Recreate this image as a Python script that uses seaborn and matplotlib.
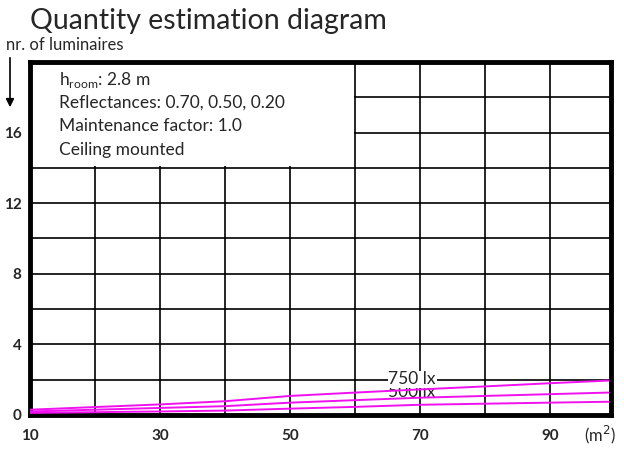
import pandas as pd
import seaborn as sns
import matplotlib.pyplot as plt
from matplotlib.patches import Rectangle

# room area (m2) vs number of luminaires
area = [10, 20, 30, 40, 50, 60, 70, 80, 90, 99]
lux_750 = [0.3, 0.45, 0.6, 0.78, 1.08, 1.27, 1.45, 1.62, 1.8, 1.95]
lux_500 = [0.2, 0.3, 0.4, 0.5, 0.7, 0.84, 0.98, 1.08, 1.18, 1.27]
lux_300 = [0.12, 0.16, 0.2, 0.25, 0.36, 0.46, 0.58, 0.64, 0.7, 0.75]

x_labels = [10, 30, 50, 70, 90]
y_labels = [0, 4, 8, 12, 16]
info_lines = ['h$_{\\mathregular{room}}$: 2.8 m', 'Reflectances: 0.70, 0.50, 0.20',
              'Maintenance factor: 1.0', 'Ceiling mounted']

df = pd.DataFrame({'area': area * 3,
                   'n': lux_750 + lux_500 + lux_300,
                   'level': ['750 lx'] * len(area) + ['500 lx'] * len(area) + ['300 lx'] * len(area)})

sns.set_style('white')
plt.rcParams['font.family'] = ['Lato', 'DejaVu Sans']

fig = plt.figure(figsize=(6.24, 4.5), dpi=100)
ax = fig.add_axes([30 / 624, 1 - 415 / 450, 581 / 624, 353 / 450])

sns.lineplot(data=df, x='area', y='n', units='level', estimator=None,
             color='#f010f0', linewidth=1.4, ax=ax, zorder=3)

ax.set_xlim(10, 99.4)
ax.set_ylim(0, 20)
ax.set_xticks(x_labels)
ax.set_xticks(range(20, 100, 20), minor=True)
ax.set_yticks(y_labels)
ax.set_yticks(range(2, 20, 4), minor=True)
ax.grid(True, which='both', color='black', linewidth=1.2)
ax.set_axisbelow(True)
ax.tick_params(which='both', length=0, labelsize=11, pad=6)
ax.tick_params(axis='x', pad=10)
for lab in ax.get_xticklabels() + ax.get_yticklabels():
    lab.set_fontweight('bold')
ax.set_xlabel('')
ax.set_ylabel('')
for s in ax.spines.values():
    s.set_visible(True)
    s.set_color('black')
    s.set_linewidth(3.5)

# white box for the info text
ax.add_patch(Rectangle((10, 14.08), 49.93, 6, facecolor='white', edgecolor='none', zorder=1))
for i, t in enumerate(info_lines):
    ax.text(14.4, 19.0 - i * 1.32, t, fontsize=12.5, va='center', ha='left', zorder=4)

# level labels
t500 = ax.text(68.8, 1.3, '500 lx', fontsize=12.5, ha='center', va='center', zorder=2)
clip = Rectangle((60, 1.55), 20, 2, transform=ax.transData)
t500.set_clip_path(clip)
ax.text(68.8, 2.02, '750 lx', fontsize=12.5, ha='center', va='center', zorder=2,
        bbox=dict(facecolor='white', edgecolor='none', pad=0.5))

fig.text(30 / 624, 1 - 29 / 450, 'Quantity estimation diagram', fontsize=20.5, va='baseline', ha='left')
fig.text(6 / 624, 1 - 45 / 450, 'nr. of luminaires', fontsize=12, va='center', ha='left')
fig.text(600 / 624, 1 - 435 / 450, '(m$^2$)', fontsize=12, va='center', ha='center')
ax.annotate('', xy=(10, 450 - 110), xytext=(10, 450 - 55), xycoords='figure pixels',
            textcoords='figure pixels',
            arrowprops=dict(arrowstyle='-|>', color='black', lw=1.2, mutation_scale=12))

fig.savefig('out.png', dpi=100)
